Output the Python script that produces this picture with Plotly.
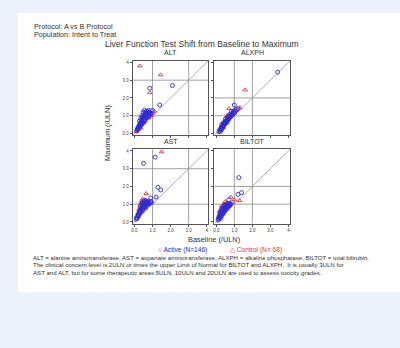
import plotly.graph_objects as go

W, H = 400, 348

panels = ["ALT", "ALXPH", "AST", "BILTOT"]
ref_levels = {"ALT": [1, 3], "ALXPH": [1, 2], "AST": [1, 3], "BILTOT": [1, 2]}
tick_vals = [0, 1, 2, 3, 4]
tick_text = ["0.0", "1.0", "2.0", "3.0", "4"]
axis_range = [-0.1, 4.1]

header_lines = ["Protocol: A vs B Protocol", "Population: Intent to Treat"]
title_text = "Liver Function Test Shift from Baseline to Maximum"
x_title = "Baseline (/ULN)"
y_title = "Maximum (/ULN)"
legend_names = ["Active (N=146)", "Control (N= 68)"]
legend_symbols = ["\u25cb", "\u25b3"]
footnotes = [
    "ALT = alanine aminotransferase, AST = aspartate aminotransferase, ALXPH = alkaline phosphatase, BILTOT = total bilirubin.",
    "The clinical concern level is 2ULN or times the upper Limit of Normal for BILTOT and ALXPH.  It is usually 3ULN for",
    "AST and ALT, but for some therapeutic areas 5ULN, 10ULN and 20ULN are used to assess toxicity grades.",
]

alt_active = [(0.12,0.15),(0.15,0.22),(0.18,0.3),(0.2,0.25),(0.22,0.38),(0.25,0.33),(0.27,0.45),(0.3,0.4),
              (0.3,0.55),(0.33,0.5),(0.35,0.62),(0.36,0.45),(0.38,0.7),(0.4,0.58),(0.42,0.8),(0.44,0.66),
              (0.45,0.9),(0.47,0.75),(0.5,0.95),(0.5,0.62),(0.52,1.05),(0.54,0.85),(0.55,0.72),(0.57,1.1),
              (0.58,0.95),(0.6,1.2),(0.6,0.8),(0.62,1.0),(0.65,1.15),(0.66,0.9),(0.68,1.25),(0.7,1.05),
              (0.72,0.95),(0.74,1.2),(0.75,1.1),(0.78,1.3),(0.8,1.15),(0.82,1.0),(0.85,1.2),(0.9,1.1),
              (0.4,1.0),(0.35,0.85),(0.48,1.2),(0.55,1.3),(0.28,0.7),(1.0,1.3),(1.4,1.6),(0.85,2.55),(2.1,2.7)]
alt_control = [(0.3,3.8),(1.45,3.3),(0.85,2.3),(0.9,1.1),(1.0,1.15),(0.95,1.0),(0.12,0.1),(0.2,0.2),
               (0.25,0.35),(0.35,0.3),(0.4,0.5),(0.5,0.6),(0.6,0.7),(0.7,0.85),(0.8,0.9),(0.45,0.75),
               (0.55,0.95),(0.65,1.0),(0.75,1.1),(0.3,0.5),(1.1,1.25),(0.85,1.05)]

alxph_active = [(0.15,0.1),(0.2,0.2),(0.22,0.12),(0.25,0.3),(0.28,0.22),(0.3,0.35),(0.32,0.4),(0.35,0.3),
                (0.38,0.48),(0.4,0.42),(0.42,0.55),(0.45,0.5),(0.47,0.6),(0.5,0.55),(0.52,0.68),(0.55,0.62),
                (0.57,0.75),(0.6,0.7),(0.62,0.8),(0.65,0.76),(0.67,0.88),(0.7,0.82),(0.72,0.95),(0.75,0.9),
                (0.78,1.0),(0.8,0.95),(0.82,1.08),(0.85,1.0),(0.88,1.12),(0.9,1.05),(0.95,1.2),(1.0,1.15),
                (1.05,1.25),(0.4,0.6),(0.5,0.8),(0.6,0.9),(0.3,0.5),(0.7,1.05),(0.85,1.25),(1.1,1.35),
                (1.2,1.4),(1.0,1.6),(3.4,3.45)]
alxph_control = [(1.6,2.45),(0.7,1.4),(1.3,1.45),(0.2,0.25),(0.3,0.3),(0.35,0.45),(0.45,0.55),(0.55,0.7),
                 (0.6,0.6),(0.65,0.85),(0.75,0.95),(0.8,1.1),(0.9,1.15),(1.0,1.2),(0.5,0.7),(0.25,0.15),
                 (0.4,0.35),(1.1,1.3),(0.6,1.0),(0.95,1.3)]

ast_active = [(0.1,0.15),(0.12,0.25),(0.15,0.2),(0.18,0.35),(0.2,0.3),(0.22,0.45),(0.25,0.4),(0.27,0.55),
              (0.3,0.5),(0.3,0.65),(0.33,0.6),(0.35,0.75),(0.37,0.55),(0.4,0.8),(0.42,0.7),(0.44,0.9),
              (0.45,0.65),(0.47,0.85),(0.5,0.95),(0.5,0.75),(0.52,1.0),(0.55,0.85),(0.57,1.05),(0.6,0.9),
              (0.6,1.1),(0.62,0.8),(0.65,1.0),(0.67,1.12),(0.7,0.95),(0.72,1.05),(0.75,1.15),(0.78,1.0),
              (0.8,1.1),(0.85,1.05),(0.9,1.15),(0.4,1.0),(0.35,0.9),(0.55,1.2),(0.45,1.1),(0.65,1.2),
              (0.95,1.1),(0.9,1.35),(1.2,1.4),(1.3,1.95),(1.45,1.8),(0.5,3.3),(1.15,3.65)]
ast_control = [(1.5,3.95),(0.65,1.6),(0.45,1.3),(0.55,1.25),(0.4,1.2),(0.35,1.05),(0.3,0.9),(0.25,0.7),
               (0.2,0.5),(0.15,0.3),(0.45,0.95),(0.5,1.1),(0.6,1.0),(0.7,1.15),(0.8,1.05),(0.3,0.6),
               (0.4,0.85),(0.25,0.45),(0.55,0.8),(0.35,0.75)]

biltot_active = [(0.1,0.1),(0.12,0.2),(0.15,0.15),(0.15,0.3),(0.18,0.25),(0.2,0.4),(0.22,0.32),(0.25,0.5),
                 (0.25,0.2),(0.28,0.45),(0.3,0.6),(0.3,0.35),(0.33,0.55),(0.35,0.7),(0.36,0.45),(0.38,0.62),
                 (0.4,0.8),(0.4,0.5),(0.42,0.72),(0.45,0.85),(0.45,0.6),(0.48,0.75),(0.5,0.9),(0.5,0.65),
                 (0.52,0.8),(0.55,0.95),(0.55,0.7),(0.58,0.85),(0.6,0.9),(0.62,0.78),(0.65,0.95),(0.68,0.88),
                 (0.7,1.0),(0.72,0.9),(0.75,0.95),(0.2,0.55),(0.3,0.75),(0.6,1.05),(0.45,0.95),(0.8,1.0),
                 (0.7,1.25),(1.2,1.55),(1.4,1.65),(1.25,2.5)]
biltot_control = [(1.3,1.2),(0.8,1.4),(0.5,1.15),(0.4,1.0),(0.3,0.9),(0.25,0.7),(0.2,0.45),(0.15,0.25),
                  (0.35,0.55),(0.45,0.7),(0.55,0.8),(0.65,0.85),(0.75,1.05),(0.6,1.0),(0.9,1.1),(0.35,0.8),
                  (1.0,1.25),(0.2,0.6)]

series = {
    "ALT": (alt_active, alt_control),
    "ALXPH": (alxph_active, alxph_control),
    "AST": (ast_active, ast_control),
    "BILTOT": (biltot_active, biltot_control),
}

BLUE = "#2a2ad8"
RED = "#e03434"
TXT = "#333333"
FONT = "Liberation Sans, Arial, sans-serif"

col_dom = [[132 / W, 208 / W], [214 / W, 290 / W]]
row_dom = [[1 - 135 / H, 1 - 60 / H], [1 - 224 / H, 1 - 149 / H]]

fig = go.Figure()
shapes = []
annotations = []

# page white panel
shapes.append(dict(type="rect", xref="paper", yref="paper", x0=17 / W, x1=1.0,
                   y0=1 - 293 / H, y1=1 - 12 / H, fillcolor="white", line=dict(width=0), layer="below"))

for i, name in enumerate(panels):
    r, c = i // 2, i % 2
    n = "" if i == 0 else str(i + 1)
    xa, ya = "x" + n, "y" + n
    active, control = series[name]
    fig.add_trace(go.Scatter(
        x=[p[0] for p in control], y=[p[1] for p in control], xaxis=xa, yaxis=ya,
        mode="markers", name=legend_names[1], showlegend=False,
        marker=dict(symbol="triangle-up-open", size=4, color=RED, line=dict(width=0.9, color=RED))))
    fig.add_trace(go.Scatter(
        x=[p[0] for p in active], y=[p[1] for p in active], xaxis=xa, yaxis=ya,
        mode="markers", name=legend_names[0], showlegend=False,
        marker=dict(symbol="circle-open", size=4, color=BLUE, line=dict(width=0.9, color=BLUE))))

    common = dict(range=axis_range, tickvals=tick_vals, ticktext=tick_text, ticks="outside",
                  ticklen=2, tickwidth=0.7, tickcolor="#555", showline=True, mirror=True,
                  linecolor="#555", linewidth=1.2, showgrid=False, zeroline=False,
                  tickfont=dict(size=4.5, color="#444", family=FONT))
    fig.layout["xaxis" + n] = dict(domain=col_dom[c], anchor=ya, showticklabels=(r == 1), **common)
    fig.layout["yaxis" + n] = dict(domain=row_dom[r], anchor=xa, showticklabels=(c == 0), **common)

    for v in ref_levels[name]:
        shapes.append(dict(type="line", xref=xa, yref=ya, x0=v, x1=v, y0=axis_range[0], y1=axis_range[1],
                           line=dict(color="#8a8a8a", width=0.8), layer="below"))
        shapes.append(dict(type="line", xref=xa, yref=ya, y0=v, y1=v, x0=axis_range[0], x1=axis_range[1],
                           line=dict(color="#8a8a8a", width=0.8), layer="below"))
    shapes.append(dict(type="line", xref=xa, yref=ya, x0=axis_range[0], y0=axis_range[0],
                       x1=axis_range[1], y1=axis_range[1], line=dict(color="#9a9a9a", width=0.8), layer="below"))

    annotations.append(dict(text=name, xref="paper", yref="paper", x=sum(col_dom[c]) / 2,
                            y=row_dom[r][1] + 8 / H, xanchor="center", yanchor="middle", showarrow=False,
                            font=dict(size=7, color=TXT, family=FONT)))

for k, line in enumerate(header_lines):
    annotations.append(dict(text=line, xref="paper", yref="paper", x=31 / W, y=1 - (26 + 8 * k) / H,
                            xanchor="left", yanchor="middle", showarrow=False,
                            font=dict(size=7.2, color=TXT, family=FONT)))
annotations.append(dict(text=title_text, xref="paper", yref="paper", x=202 / W, y=1 - 43 / H,
                        xanchor="center", yanchor="middle", showarrow=False,
                        font=dict(size=8.5, color=TXT, family=FONT)))
annotations.append(dict(text=x_title, xref="paper", yref="paper", x=214 / W, y=1 - 240 / H,
                        xanchor="center", yanchor="middle", showarrow=False,
                        font=dict(size=7.4, color=TXT, family=FONT)))
annotations.append(dict(text=y_title, xref="paper", yref="paper", x=107 / W, y=1 - 133 / H,
                        xanchor="center", yanchor="middle", showarrow=False, textangle=-90,
                        font=dict(size=7.4, color=TXT, family=FONT)))
annotations.append(dict(text=f"{legend_symbols[0]} {legend_names[0]}", xref="paper", yref="paper",
                        x=155 / W, y=1 - 250 / H, xanchor="left", yanchor="middle", showarrow=False,
                        font=dict(size=6.6, color=BLUE, family=FONT)))
annotations.append(dict(text=f"{legend_symbols[1]} {legend_names[1]}", xref="paper", yref="paper",
                        x=228 / W, y=1 - 250 / H, xanchor="left", yanchor="middle", showarrow=False,
                        font=dict(size=6.6, color=RED, family=FONT)))
for k, line in enumerate(footnotes):
    annotations.append(dict(text=line, xref="paper", yref="paper", x=30 / W, y=1 - (258 + 7.3 * k) / H,
                            xanchor="left", yanchor="middle", showarrow=False,
                            font=dict(size=6.1, color=TXT, family=FONT)))

fig.update_layout(
    width=W, height=H, margin=dict(l=0, r=0, t=0, b=0),
    paper_bgcolor="#ebf2fa", plot_bgcolor="white",
    shapes=shapes, annotations=annotations,
    showlegend=False,
)

fig.write_html("out.html", config={"displayModeBar": False},
               post_script="document.body.style.margin='0';document.body.style.background='#ebf2fa';")
